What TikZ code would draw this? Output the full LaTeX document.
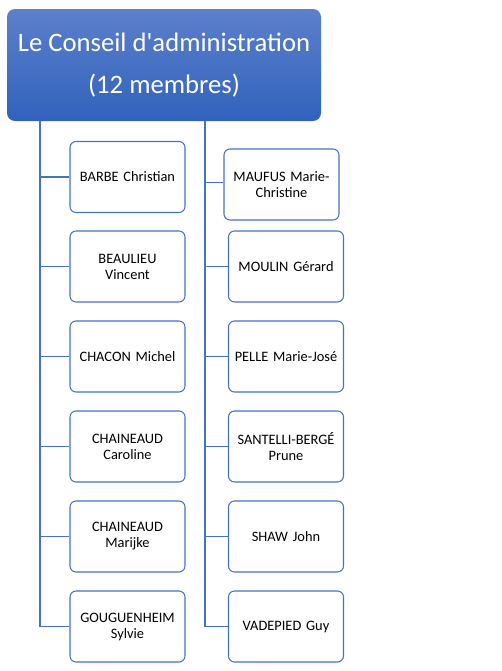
\documentclass[tikz,border=0pt]{standalone}
\usepackage{fontspec}
\setmainfont{Carlito}
\usetikzlibrary{positioning}

\definecolor{orgblue}{HTML}{4472C4}
\definecolor{hdrtop}{HTML}{5C80CA}
\definecolor{hdrbot}{HTML}{3162BD}

\tikzset{
  hdrbox/.style={rounded corners=6pt, top color=hdrtop, bottom color=hdrbot,
    draw=none, minimum width=235.5pt, minimum height=84pt, inner sep=0,
    text=white, align=center, font=\fontsize{20}{31.5}\selectfont},
  person/.style={rounded corners=4.5pt, draw=orgblue, line width=0.8pt, fill=white,
    minimum width=86.25pt, minimum height=53.25pt, inner sep=0, text width=80pt,
    align=center, font=\fontsize{10.8}{12}\selectfont},
  branch/.style={draw=orgblue, line width=0.8pt}
}

\begin{document}
\begin{tikzpicture}[x=0.75pt, y=-0.75pt]
    \useasboundingbox (0,0) rectangle (502,671);
    \node[hdrbox] (conseil) at (164,65) {Le Conseil d\textquotesingle administration\\(12 membres)};
    \coordinate (ltrunk) at (40,121);
    \coordinate (rtrunk) at (205,121);

    \node[person] (barbe) at (127.5,177) {BARBE Christian};
    \node[person] (beaulieu) at (127.5,266.5) {BEAULIEU\\Vincent};
    \node[person] (chacon) at (127.5,356.5) {CHACON Michel};
    \node[person] (chaineaudc) at (127.5,446.5) {CHAINEAUD\\Caroline};
    \node[person] (chaineaudm) at (127.5,536.5) {CHAINEAUD\\Marijke};
    \node[person] (gouguenheim) at (127.5,626.5) {GOUGUENHEIM\\Sylvie};

    \node[person] (maufus) at (281.5,184.5) {MAUFUS Marie-\\Christine};
    \node[person] (moulin) at (286,266.5) {MOULIN Gérard};
    \node[person] (pelle) at (286,356.5) {PELLE Marie-José};
    \node[person] (santelli) at (286,446.5) {SANTELLI-BERGÉ\\Prune};
    \node[person] (shaw) at (286,536.5) {SHAW John};
    \node[person] (vadepied) at (286,626.5) {VADEPIED Guy};

    \draw[branch] (ltrunk) |- (barbe.west);
    \draw[branch] (ltrunk) |- (beaulieu.west);
    \draw[branch] (ltrunk) |- (chacon.west);
    \draw[branch] (ltrunk) |- (chaineaudc.west);
    \draw[branch] (ltrunk) |- (chaineaudm.west);
    \draw[branch] (ltrunk) |- (gouguenheim.west);

    \draw[branch] (rtrunk) |- ([yshift=1.5]maufus.west);
    \draw[branch] (rtrunk) |- (moulin.west);
    \draw[branch] (rtrunk) |- (pelle.west);
    \draw[branch] (rtrunk) |- (santelli.west);
    \draw[branch] (rtrunk) |- (shaw.west);
    \draw[branch] (rtrunk) |- (vadepied.west);
\end{tikzpicture}
\end{document}
